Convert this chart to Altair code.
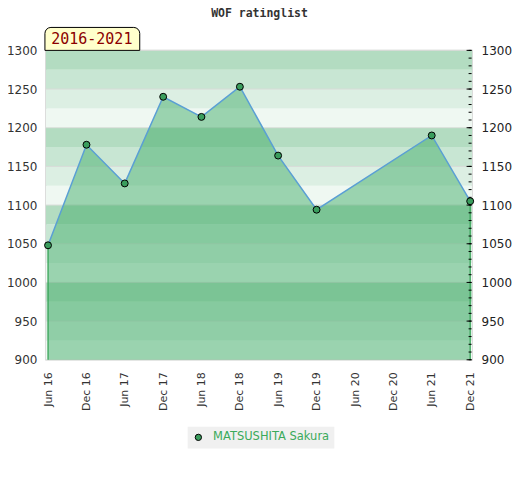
import altair as alt
import pandas as pd

# ---- data ----
dates = ["2016-06-01", "2016-12-01", "2017-06-01", "2017-12-01", "2018-06-01",
         "2018-12-01", "2019-06-01", "2019-12-01", "2021-06-01", "2021-12-01"]
ratings = [1048, 1178, 1128, 1240, 1214, 1253, 1164, 1094, 1190, 1105]
player = "MATSUSHITA Sakura"

tick_dates = [(2016, 6), (2016, 12), (2017, 6), (2017, 12), (2018, 6), (2018, 12),
              (2019, 6), (2019, 12), (2020, 6), (2020, 12), (2021, 6), (2021, 12)]
y_labels = list(range(900, 1301, 50))
minor_ticks = list(range(900, 1301, 10))
period_label = "2016-2021"
title_text = "WOF ratinglist"

W, H = 427, 310
Y_MIN, Y_MAX = 900, 1300

# ---- frames ----
df = pd.DataFrame({"date": dates, "rating": ratings, "player": player})
ends = df.iloc[[0, -1]].copy()

band_cols = ["#eff8f2", "#dcefe3", "#c8e6d3", "#b3dcc1"]  # bottom -> top within each 100
bands = pd.DataFrame({"lo": list(range(Y_MIN, Y_MAX, 25))})
bands["hi"] = bands["lo"] + 25
bands["col"] = [band_cols[(v % 100) // 25] for v in bands["lo"]]

grid = pd.DataFrame({"v": y_labels})
minor = pd.DataFrame({"v": minor_ticks})
box = pd.DataFrame({"t": [period_label]})
ttl = pd.DataFrame({"t": [title_text]})

yscale = alt.Scale(domain=[Y_MIN, Y_MAX], nice=False, zero=False)
xscale = alt.Scale(type="utc",
                   domain=[alt.DateTime(year=2016, month=5, date=22, utc=True),
                           alt.DateTime(year=2021, month=12, date=10, utc=True)])
xvals = [alt.DateTime(year=y, month=m, date=1, utc=True) for y, m in tick_dates]

x_enc = alt.X("date:T", scale=xscale, axis=None)

band_layer = alt.Chart(bands).mark_rect().encode(
    x=alt.value(0), x2=alt.value(W),
    y=alt.Y("lo:Q", scale=yscale, axis=None), y2="hi:Q",
    color=alt.Color("col:N", scale=None),
)

grid_layer = alt.Chart(grid).mark_rule(color="#d8dcd8", strokeWidth=1).encode(
    x=alt.value(0), x2=alt.value(W),
    y=alt.Y("v:Q", scale=yscale, axis=alt.Axis(
        orient="left", values=y_labels, format="d", ticks=False, domain=False,
        grid=False, labelFont="DejaVu Sans", labelFontSize=12,
        labelColor="#333333", labelPadding=9, title=None)),
)

area_layer = alt.Chart(df).mark_area(color="#3ca963", opacity=0.47).encode(
    x=x_enc,
    y=alt.Y("rating:Q", scale=yscale, axis=None),
    y2=alt.datum(Y_MIN),
)

edge_layer = alt.Chart(ends).mark_rule(color="#2ea050", strokeWidth=1.2).encode(
    x=x_enc,
    y=alt.Y("rating:Q", scale=yscale, axis=None),
    y2=alt.datum(Y_MIN),
)

line_layer = alt.Chart(df).mark_line(color="#5a9fd4", strokeWidth=1.5).encode(
    x=alt.X("date:T", scale=xscale, axis=alt.Axis(
        values=xvals, labelExpr="utcFormat(datum.value, '%b %y')",
        labelAngle=270, labelAlign="right", labelBaseline="middle",
        labelPadding=12, ticks=False, domain=False, grid=False,
        labelFont="DejaVu Sans", labelFontSize=11, labelColor="#333333",
        title=None)),
    y=alt.Y("rating:Q", scale=yscale, axis=None),
)

point_layer = alt.Chart(df).mark_point(filled=True, size=48, stroke="black",
                                       strokeWidth=1, opacity=1).encode(
    x=x_enc,
    y=alt.Y("rating:Q", scale=yscale, axis=None),
    fill=alt.Fill("player:N", scale=alt.Scale(domain=[player], range=["#3a9d5d"]),
                  legend=alt.Legend(
                      title=None, orient="none", legendX=142, legendY=377,
                      fillColor="#f0f0f0", padding=5, symbolType="circle",
                      symbolSize=40, symbolStrokeColor="black", symbolStrokeWidth=1,
                      labelFont="DejaVu Sans", labelFontSize=11.5,
                      labelColor="#3aaa5a", labelOffset=9)),
)

tick_layer = alt.Chart(minor).mark_rule(color="#000000", strokeWidth=1).encode(
    x=alt.value(W - 0.5), x2=alt.value(W - 3.5),
    y=alt.Y("v:Q", scale=yscale, axis=alt.Axis(
        orient="right", values=y_labels, format="d", ticks=False, domain=False,
        grid=False, labelFont="DejaVu Sans", labelFontSize=12,
        labelColor="#222222", labelPadding=9, title=None)),
)

major_layer = alt.Chart(grid).mark_rule(color="#000000", strokeWidth=1).encode(
    x=alt.value(W - 0.5), x2=alt.value(W - 5.5),
    y=alt.Y("v:Q", scale=yscale, axis=None),
)

box_layer = alt.Chart(box).mark_rect(
    fill="#ffffcc", stroke="black", strokeWidth=1,
    cornerRadiusTopLeft=6, cornerRadiusTopRight=6, clip=False).encode(
    x=alt.value(-1), x2=alt.value(94), y=alt.value(-23), y2=alt.value(0),
)

box_text = alt.Chart(box).mark_text(
    font="DejaVu Sans Mono", fontSize=15, color="#8b0000",
    align="center", baseline="middle", clip=False).encode(
    x=alt.value(46), y=alt.value(-11), text="t:N",
)

title_layer = alt.Chart(ttl).mark_text(
    font="DejaVu Sans Mono", fontSize=11.5, fontWeight="bold", color="#333333",
    align="center", baseline="alphabetic", clip=False).encode(
    x=alt.value(214), y=alt.value(-33), text="t:N",
)

chart = alt.layer(
    band_layer, grid_layer, area_layer, edge_layer, line_layer, point_layer,
    tick_layer, major_layer, box_layer, box_text, title_layer,
).resolve_axis(x="independent", y="independent").properties(
    width=W, height=H,
    autosize=alt.AutoSizeParams(type="none"),
    padding={"left": 38, "top": 42, "right": 40, "bottom": 120},
).configure_view(stroke="#d4d4d4", strokeWidth=1.5)

chart.save("out.html", embed_options={"renderer": "svg", "actions": False})
